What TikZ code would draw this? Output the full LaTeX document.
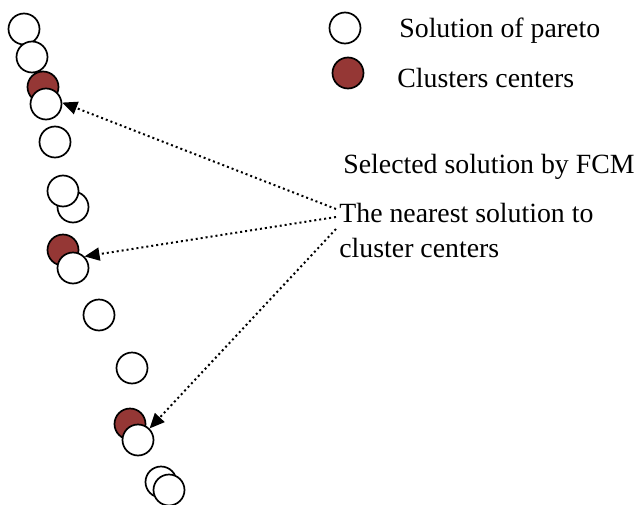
\documentclass[tikz,border=0pt]{standalone}
\usepackage{fontspec}
\setmainfont{Liberation Serif}
\usetikzlibrary{arrows.meta}
\definecolor{clred}{RGB}{149,55,53}
\begin{document}
\begin{tikzpicture}[x=0.5pt,y=-0.5pt,
  sol/.style={circle,draw=black,fill=white,line width=0.85pt,minimum size=15.5pt,inner sep=0pt},
  ctr/.style={sol,fill=clred},
  lbl/.style={font=\fontsize{13.9}{17.5}\selectfont,inner sep=0pt,anchor=base west},
  pointer/.style={line width=1pt,dash pattern=on 1pt off 1.5pt,-{Triangle[length=7.5pt,width=6.5pt]}}]
\useasboundingbox (0,0) rectangle (638,504);
% cluster centers
\node[ctr] (r1) at (43,87) {};
\node[ctr] (r2) at (63,250) {};
\node[ctr] (r3) at (130,424) {};
% pareto solutions
\node[sol] (c1) at (24,29) {};
\node[sol] (c2) at (32,57) {};
\node[sol] (c3) at (46,104) {};
\node[sol] (c4) at (55,142) {};
\node[sol] (c6) at (73,207) {};
\node[sol] (c5) at (63,191) {};
\node[sol] (c7) at (73,268) {};
\node[sol] (c8) at (99,315) {};
\node[sol] (c9) at (132,368) {};
\node[sol] (c10) at (138,440) {};
\node[sol] (c11) at (161,482) {};
\node[sol] (c12) at (169,490) {};
% legend
\node[sol] (lg1) at (345,28) {};
\node[ctr] (lg2) at (348,73) {};
\node[lbl] (t1) at (399,37) {Solution of pareto};
\node[lbl] (t2) at (397,87) {Clusters centers};
\node[lbl] (t3) at (343,173) {Selected solution by FCM};
\node[lbl] (t4) at (339,222) {The nearest solution to};
\node[lbl] (t5) at (339,257) {cluster centers};
% arrow starts
\coordinate (s1) at (336,209);
\coordinate (s2) at (336,217);
\coordinate (s3) at (336,229);
\draw[pointer] (s1) -- (c3.5);
\draw[pointer] (s2) -- (c7.45);
\draw[pointer] (s3) -- (c10.45);
\end{tikzpicture}
\end{document}
